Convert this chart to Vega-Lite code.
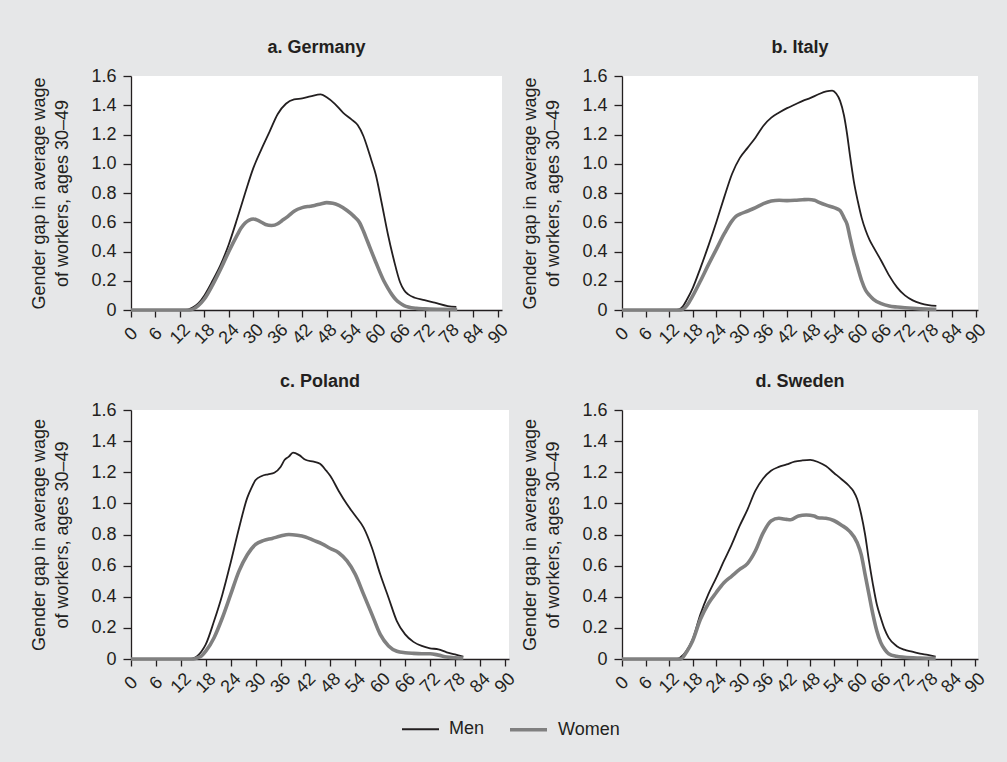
{
  "$schema": "https://vega.github.io/schema/vega-lite/v6.json",
  "background": "#e6e7e8",
  "padding": {"left": 30, "top": 39, "right": 22, "bottom": 30},
  "data": {"values": [
    {"country":"Germany","sex":"Men","age":0,"value":0},{"country":"Germany","sex":"Men","age":13,"value":0},{"country":"Germany","sex":"Men","age":14,"value":0.003},{"country":"Germany","sex":"Men","age":15,"value":0.015},{"country":"Germany","sex":"Men","age":16.5,"value":0.045},{"country":"Germany","sex":"Men","age":18,"value":0.1},{"country":"Germany","sex":"Men","age":20,"value":0.2},{"country":"Germany","sex":"Men","age":22,"value":0.31},{"country":"Germany","sex":"Men","age":24,"value":0.45},{"country":"Germany","sex":"Men","age":26,"value":0.62},{"country":"Germany","sex":"Men","age":28,"value":0.8},{"country":"Germany","sex":"Men","age":30,"value":0.97},{"country":"Germany","sex":"Men","age":32,"value":1.1},{"country":"Germany","sex":"Men","age":34,"value":1.22},{"country":"Germany","sex":"Men","age":36,"value":1.34},{"country":"Germany","sex":"Men","age":38,"value":1.41},{"country":"Germany","sex":"Men","age":40,"value":1.44},{"country":"Germany","sex":"Men","age":42,"value":1.447},{"country":"Germany","sex":"Men","age":44,"value":1.46},{"country":"Germany","sex":"Men","age":46.5,"value":1.475},{"country":"Germany","sex":"Men","age":48,"value":1.455},{"country":"Germany","sex":"Men","age":50,"value":1.41},{"country":"Germany","sex":"Men","age":52,"value":1.35},{"country":"Germany","sex":"Men","age":54,"value":1.305},{"country":"Germany","sex":"Men","age":55.6,"value":1.265},{"country":"Germany","sex":"Men","age":57,"value":1.19},{"country":"Germany","sex":"Men","age":58,"value":1.11},{"country":"Germany","sex":"Men","age":59,"value":1.02},{"country":"Germany","sex":"Men","age":60,"value":0.93},{"country":"Germany","sex":"Men","age":61.5,"value":0.73},{"country":"Germany","sex":"Men","age":63,"value":0.52},{"country":"Germany","sex":"Men","age":64.5,"value":0.34},{"country":"Germany","sex":"Men","age":66,"value":0.19},{"country":"Germany","sex":"Men","age":67,"value":0.135},{"country":"Germany","sex":"Men","age":68,"value":0.107},{"country":"Germany","sex":"Men","age":69.6,"value":0.084},{"country":"Germany","sex":"Men","age":72,"value":0.068},{"country":"Germany","sex":"Men","age":74.5,"value":0.05},{"country":"Germany","sex":"Men","age":77.7,"value":0.027},{"country":"Germany","sex":"Men","age":79.8,"value":0.022},
    {"country":"Germany","sex":"Women","age":0,"value":0},{"country":"Germany","sex":"Women","age":14.5,"value":0},{"country":"Germany","sex":"Women","age":15.5,"value":0.01},{"country":"Germany","sex":"Women","age":16.5,"value":0.03},{"country":"Germany","sex":"Women","age":18,"value":0.075},{"country":"Germany","sex":"Women","age":20,"value":0.17},{"country":"Germany","sex":"Women","age":22,"value":0.28},{"country":"Germany","sex":"Women","age":24,"value":0.4},{"country":"Germany","sex":"Women","age":26,"value":0.51},{"country":"Germany","sex":"Women","age":27,"value":0.56},{"country":"Germany","sex":"Women","age":28,"value":0.595},{"country":"Germany","sex":"Women","age":29,"value":0.615},{"country":"Germany","sex":"Women","age":30,"value":0.622},{"country":"Germany","sex":"Women","age":31,"value":0.615},{"country":"Germany","sex":"Women","age":32,"value":0.6},{"country":"Germany","sex":"Women","age":33,"value":0.585},{"country":"Germany","sex":"Women","age":34.5,"value":0.578},{"country":"Germany","sex":"Women","age":36,"value":0.59},{"country":"Germany","sex":"Women","age":37,"value":0.61},{"country":"Germany","sex":"Women","age":38.5,"value":0.64},{"country":"Germany","sex":"Women","age":40,"value":0.675},{"country":"Germany","sex":"Women","age":42,"value":0.7},{"country":"Germany","sex":"Women","age":44,"value":0.71},{"country":"Germany","sex":"Women","age":45,"value":0.715},{"country":"Germany","sex":"Women","age":46.5,"value":0.725},{"country":"Germany","sex":"Women","age":48,"value":0.734},{"country":"Germany","sex":"Women","age":49.5,"value":0.73},{"country":"Germany","sex":"Women","age":51,"value":0.715},{"country":"Germany","sex":"Women","age":53,"value":0.68},{"country":"Germany","sex":"Women","age":54.5,"value":0.645},{"country":"Germany","sex":"Women","age":56,"value":0.6},{"country":"Germany","sex":"Women","age":57,"value":0.54},{"country":"Germany","sex":"Women","age":58,"value":0.47},{"country":"Germany","sex":"Women","age":60,"value":0.33},{"country":"Germany","sex":"Women","age":62,"value":0.2},{"country":"Germany","sex":"Women","age":63,"value":0.15},{"country":"Germany","sex":"Women","age":64,"value":0.105},{"country":"Germany","sex":"Women","age":65,"value":0.07},{"country":"Germany","sex":"Women","age":66,"value":0.047},{"country":"Germany","sex":"Women","age":67,"value":0.03},{"country":"Germany","sex":"Women","age":68,"value":0.02},{"country":"Germany","sex":"Women","age":70,"value":0.011},{"country":"Germany","sex":"Women","age":72,"value":0.008},{"country":"Germany","sex":"Women","age":76,"value":0.005},{"country":"Germany","sex":"Women","age":80,"value":0.003},
    {"country":"Italy","sex":"Men","age":0,"value":0},{"country":"Italy","sex":"Men","age":13.5,"value":0},{"country":"Italy","sex":"Men","age":14.5,"value":0.005},{"country":"Italy","sex":"Men","age":15.5,"value":0.025},{"country":"Italy","sex":"Men","age":16.5,"value":0.07},{"country":"Italy","sex":"Men","age":18,"value":0.15},{"country":"Italy","sex":"Men","age":20,"value":0.29},{"country":"Italy","sex":"Men","age":22,"value":0.44},{"country":"Italy","sex":"Men","age":24,"value":0.6},{"country":"Italy","sex":"Men","age":26,"value":0.77},{"country":"Italy","sex":"Men","age":28,"value":0.93},{"country":"Italy","sex":"Men","age":30,"value":1.04},{"country":"Italy","sex":"Men","age":32,"value":1.11},{"country":"Italy","sex":"Men","age":34,"value":1.18},{"country":"Italy","sex":"Men","age":36,"value":1.26},{"country":"Italy","sex":"Men","age":38,"value":1.315},{"country":"Italy","sex":"Men","age":40,"value":1.35},{"country":"Italy","sex":"Men","age":42,"value":1.38},{"country":"Italy","sex":"Men","age":44,"value":1.405},{"country":"Italy","sex":"Men","age":46,"value":1.43},{"country":"Italy","sex":"Men","age":48,"value":1.45},{"country":"Italy","sex":"Men","age":50,"value":1.475},{"country":"Italy","sex":"Men","age":52,"value":1.495},{"country":"Italy","sex":"Men","age":53.5,"value":1.5},{"country":"Italy","sex":"Men","age":54.5,"value":1.48},{"country":"Italy","sex":"Men","age":55.5,"value":1.43},{"country":"Italy","sex":"Men","age":56.5,"value":1.33},{"country":"Italy","sex":"Men","age":57.3,"value":1.2},{"country":"Italy","sex":"Men","age":58,"value":1.06},{"country":"Italy","sex":"Men","age":59,"value":0.88},{"country":"Italy","sex":"Men","age":60,"value":0.745},{"country":"Italy","sex":"Men","age":61,"value":0.63},{"country":"Italy","sex":"Men","age":62,"value":0.545},{"country":"Italy","sex":"Men","age":63,"value":0.48},{"country":"Italy","sex":"Men","age":64,"value":0.43},{"country":"Italy","sex":"Men","age":66,"value":0.335},{"country":"Italy","sex":"Men","age":68,"value":0.235},{"country":"Italy","sex":"Men","age":70,"value":0.155},{"country":"Italy","sex":"Men","age":72,"value":0.1},{"country":"Italy","sex":"Men","age":74,"value":0.066},{"country":"Italy","sex":"Men","age":76,"value":0.046},{"country":"Italy","sex":"Men","age":78,"value":0.034},{"country":"Italy","sex":"Men","age":80,"value":0.028},
    {"country":"Italy","sex":"Women","age":0,"value":0},{"country":"Italy","sex":"Women","age":15,"value":0},{"country":"Italy","sex":"Women","age":16,"value":0.015},{"country":"Italy","sex":"Women","age":17,"value":0.05},{"country":"Italy","sex":"Women","age":18,"value":0.096},{"country":"Italy","sex":"Women","age":20,"value":0.2},{"country":"Italy","sex":"Women","age":22,"value":0.31},{"country":"Italy","sex":"Women","age":24,"value":0.415},{"country":"Italy","sex":"Women","age":26,"value":0.52},{"country":"Italy","sex":"Women","age":28,"value":0.61},{"country":"Italy","sex":"Women","age":29,"value":0.64},{"country":"Italy","sex":"Women","age":30,"value":0.655},{"country":"Italy","sex":"Women","age":32,"value":0.677},{"country":"Italy","sex":"Women","age":34,"value":0.7},{"country":"Italy","sex":"Women","age":36,"value":0.727},{"country":"Italy","sex":"Women","age":38,"value":0.745},{"country":"Italy","sex":"Women","age":40,"value":0.75},{"country":"Italy","sex":"Women","age":42,"value":0.748},{"country":"Italy","sex":"Women","age":44,"value":0.75},{"country":"Italy","sex":"Women","age":46,"value":0.754},{"country":"Italy","sex":"Women","age":47.5,"value":0.756},{"country":"Italy","sex":"Women","age":49,"value":0.75},{"country":"Italy","sex":"Women","age":50,"value":0.738},{"country":"Italy","sex":"Women","age":52,"value":0.717},{"country":"Italy","sex":"Women","age":54,"value":0.7},{"country":"Italy","sex":"Women","age":55.5,"value":0.68},{"country":"Italy","sex":"Women","age":56.5,"value":0.63},{"country":"Italy","sex":"Women","age":57.3,"value":0.585},{"country":"Italy","sex":"Women","age":58,"value":0.5},{"country":"Italy","sex":"Women","age":59,"value":0.385},{"country":"Italy","sex":"Women","age":60,"value":0.29},{"country":"Italy","sex":"Women","age":61,"value":0.2},{"country":"Italy","sex":"Women","age":62,"value":0.135},{"country":"Italy","sex":"Women","age":63,"value":0.1},{"country":"Italy","sex":"Women","age":64,"value":0.073},{"country":"Italy","sex":"Women","age":66,"value":0.043},{"country":"Italy","sex":"Women","age":68,"value":0.027},{"country":"Italy","sex":"Women","age":70,"value":0.02},{"country":"Italy","sex":"Women","age":72,"value":0.015},{"country":"Italy","sex":"Women","age":76,"value":0.008},{"country":"Italy","sex":"Women","age":80,"value":0.005},
    {"country":"Poland","sex":"Men","age":0,"value":0},{"country":"Poland","sex":"Men","age":14,"value":0},{"country":"Poland","sex":"Men","age":15,"value":0.005},{"country":"Poland","sex":"Men","age":16,"value":0.02},{"country":"Poland","sex":"Men","age":17,"value":0.05},{"country":"Poland","sex":"Men","age":18,"value":0.094},{"country":"Poland","sex":"Men","age":20,"value":0.244},{"country":"Poland","sex":"Men","age":22,"value":0.415},{"country":"Poland","sex":"Men","age":24,"value":0.62},{"country":"Poland","sex":"Men","age":26,"value":0.84},{"country":"Poland","sex":"Men","age":28,"value":1.037},{"country":"Poland","sex":"Men","age":29,"value":1.1},{"country":"Poland","sex":"Men","age":30,"value":1.15},{"country":"Poland","sex":"Men","age":31.5,"value":1.176},{"country":"Poland","sex":"Men","age":33,"value":1.187},{"country":"Poland","sex":"Men","age":34.5,"value":1.197},{"country":"Poland","sex":"Men","age":36,"value":1.234},{"country":"Poland","sex":"Men","age":37,"value":1.28},{"country":"Poland","sex":"Men","age":38,"value":1.3},{"country":"Poland","sex":"Men","age":39,"value":1.326},{"country":"Poland","sex":"Men","age":40.5,"value":1.31},{"country":"Poland","sex":"Men","age":42,"value":1.28},{"country":"Poland","sex":"Men","age":44,"value":1.268},{"country":"Poland","sex":"Men","age":45.5,"value":1.255},{"country":"Poland","sex":"Men","age":47,"value":1.21},{"country":"Poland","sex":"Men","age":48,"value":1.176},{"country":"Poland","sex":"Men","age":50,"value":1.08},{"country":"Poland","sex":"Men","age":52,"value":0.994},{"country":"Poland","sex":"Men","age":54,"value":0.92},{"country":"Poland","sex":"Men","age":56,"value":0.844},{"country":"Poland","sex":"Men","age":58,"value":0.715},{"country":"Poland","sex":"Men","age":60,"value":0.544},{"country":"Poland","sex":"Men","age":62,"value":0.394},{"country":"Poland","sex":"Men","age":64,"value":0.244},{"country":"Poland","sex":"Men","age":66,"value":0.158},{"country":"Poland","sex":"Men","age":68,"value":0.11},{"country":"Poland","sex":"Men","age":70,"value":0.084},{"country":"Poland","sex":"Men","age":72,"value":0.069},{"country":"Poland","sex":"Men","age":74,"value":0.062},{"country":"Poland","sex":"Men","age":76,"value":0.043},{"country":"Poland","sex":"Men","age":78,"value":0.03},{"country":"Poland","sex":"Men","age":80,"value":0.015},
    {"country":"Poland","sex":"Women","age":0,"value":0},{"country":"Poland","sex":"Women","age":15,"value":0},{"country":"Poland","sex":"Women","age":16,"value":0.008},{"country":"Poland","sex":"Women","age":17,"value":0.02},{"country":"Poland","sex":"Women","age":18,"value":0.05},{"country":"Poland","sex":"Women","age":20,"value":0.137},{"country":"Poland","sex":"Women","age":22,"value":0.265},{"country":"Poland","sex":"Women","age":24,"value":0.415},{"country":"Poland","sex":"Women","age":26,"value":0.565},{"country":"Poland","sex":"Women","age":28,"value":0.67},{"country":"Poland","sex":"Women","age":30,"value":0.737},{"country":"Poland","sex":"Women","age":32,"value":0.762},{"country":"Poland","sex":"Women","age":34,"value":0.775},{"country":"Poland","sex":"Women","age":36,"value":0.79},{"country":"Poland","sex":"Women","age":38,"value":0.8},{"country":"Poland","sex":"Women","age":40,"value":0.795},{"country":"Poland","sex":"Women","age":42,"value":0.784},{"country":"Poland","sex":"Women","age":44,"value":0.762},{"country":"Poland","sex":"Women","age":46,"value":0.74},{"country":"Poland","sex":"Women","age":48,"value":0.71},{"country":"Poland","sex":"Women","age":50,"value":0.683},{"country":"Poland","sex":"Women","age":52,"value":0.63},{"country":"Poland","sex":"Women","age":54,"value":0.544},{"country":"Poland","sex":"Women","age":56,"value":0.415},{"country":"Poland","sex":"Women","age":58,"value":0.287},{"country":"Poland","sex":"Women","age":60,"value":0.158},{"country":"Poland","sex":"Women","age":62,"value":0.084},{"country":"Poland","sex":"Women","age":64,"value":0.05},{"country":"Poland","sex":"Women","age":66,"value":0.04},{"country":"Poland","sex":"Women","age":68,"value":0.036},{"country":"Poland","sex":"Women","age":70,"value":0.034},{"country":"Poland","sex":"Women","age":72,"value":0.034},{"country":"Poland","sex":"Women","age":74,"value":0.025},{"country":"Poland","sex":"Women","age":76,"value":0.013},{"country":"Poland","sex":"Women","age":78,"value":0.008},{"country":"Poland","sex":"Women","age":80,"value":0.006},
    {"country":"Sweden","sex":"Men","age":0,"value":0},{"country":"Sweden","sex":"Men","age":14,"value":0},{"country":"Sweden","sex":"Men","age":15,"value":0.013},{"country":"Sweden","sex":"Men","age":16.5,"value":0.055},{"country":"Sweden","sex":"Men","age":18,"value":0.126},{"country":"Sweden","sex":"Men","age":20,"value":0.287},{"country":"Sweden","sex":"Men","age":22,"value":0.415},{"country":"Sweden","sex":"Men","age":24,"value":0.52},{"country":"Sweden","sex":"Men","age":26,"value":0.63},{"country":"Sweden","sex":"Men","age":28,"value":0.737},{"country":"Sweden","sex":"Men","age":30,"value":0.855},{"country":"Sweden","sex":"Men","age":32,"value":0.96},{"country":"Sweden","sex":"Men","age":34,"value":1.08},{"country":"Sweden","sex":"Men","age":36,"value":1.16},{"country":"Sweden","sex":"Men","age":38,"value":1.21},{"country":"Sweden","sex":"Men","age":40,"value":1.234},{"country":"Sweden","sex":"Men","age":42,"value":1.25},{"country":"Sweden","sex":"Men","age":44,"value":1.268},{"country":"Sweden","sex":"Men","age":46,"value":1.276},{"country":"Sweden","sex":"Men","age":48,"value":1.28},{"country":"Sweden","sex":"Men","age":50,"value":1.266},{"country":"Sweden","sex":"Men","age":52,"value":1.24},{"country":"Sweden","sex":"Men","age":54,"value":1.197},{"country":"Sweden","sex":"Men","age":56,"value":1.155},{"country":"Sweden","sex":"Men","age":58,"value":1.11},{"country":"Sweden","sex":"Men","age":59,"value":1.08},{"country":"Sweden","sex":"Men","age":60,"value":1.026},{"country":"Sweden","sex":"Men","age":61,"value":0.93},{"country":"Sweden","sex":"Men","age":62,"value":0.8},{"country":"Sweden","sex":"Men","age":63,"value":0.63},{"country":"Sweden","sex":"Men","age":64,"value":0.48},{"country":"Sweden","sex":"Men","age":65,"value":0.35},{"country":"Sweden","sex":"Men","age":66,"value":0.265},{"country":"Sweden","sex":"Men","age":67,"value":0.19},{"country":"Sweden","sex":"Men","age":68,"value":0.137},{"country":"Sweden","sex":"Men","age":70,"value":0.084},{"country":"Sweden","sex":"Men","age":72,"value":0.06},{"country":"Sweden","sex":"Men","age":74,"value":0.047},{"country":"Sweden","sex":"Men","age":76,"value":0.034},{"country":"Sweden","sex":"Men","age":78,"value":0.026},{"country":"Sweden","sex":"Men","age":80,"value":0.015},
    {"country":"Sweden","sex":"Women","age":0,"value":0},{"country":"Sweden","sex":"Women","age":15,"value":0},{"country":"Sweden","sex":"Women","age":16.5,"value":0.047},{"country":"Sweden","sex":"Women","age":18,"value":0.116},{"country":"Sweden","sex":"Women","age":20,"value":0.255},{"country":"Sweden","sex":"Women","age":22,"value":0.355},{"country":"Sweden","sex":"Women","age":24,"value":0.426},{"country":"Sweden","sex":"Women","age":26,"value":0.49},{"country":"Sweden","sex":"Women","age":28,"value":0.533},{"country":"Sweden","sex":"Women","age":30,"value":0.576},{"country":"Sweden","sex":"Women","age":32,"value":0.613},{"country":"Sweden","sex":"Women","age":34,"value":0.694},{"country":"Sweden","sex":"Women","age":36,"value":0.81},{"country":"Sweden","sex":"Women","age":38,"value":0.887},{"country":"Sweden","sex":"Women","age":40,"value":0.904},{"country":"Sweden","sex":"Women","age":42,"value":0.897},{"country":"Sweden","sex":"Women","age":43,"value":0.895},{"country":"Sweden","sex":"Women","age":45,"value":0.919},{"country":"Sweden","sex":"Women","age":47,"value":0.925},{"country":"Sweden","sex":"Women","age":49,"value":0.919},{"country":"Sweden","sex":"Women","age":50,"value":0.908},{"country":"Sweden","sex":"Women","age":52,"value":0.904},{"country":"Sweden","sex":"Women","age":54,"value":0.89},{"country":"Sweden","sex":"Women","age":56,"value":0.86},{"country":"Sweden","sex":"Women","age":58,"value":0.822},{"country":"Sweden","sex":"Women","age":60,"value":0.747},{"country":"Sweden","sex":"Women","age":61,"value":0.672},{"country":"Sweden","sex":"Women","age":62,"value":0.544},{"country":"Sweden","sex":"Women","age":63,"value":0.415},{"country":"Sweden","sex":"Women","age":64,"value":0.287},{"country":"Sweden","sex":"Women","age":65,"value":0.18},{"country":"Sweden","sex":"Women","age":66,"value":0.105},{"country":"Sweden","sex":"Women","age":67,"value":0.062},{"country":"Sweden","sex":"Women","age":68,"value":0.034},{"country":"Sweden","sex":"Women","age":70,"value":0.017},{"country":"Sweden","sex":"Women","age":72,"value":0.011},{"country":"Sweden","sex":"Women","age":76,"value":0.006},{"country":"Sweden","sex":"Women","age":80,"value":0.004}
  ]},
  "vconcat": [
    {"hconcat": [
      {"title": "a. Germany", "width": 371, "height": 234,
       "transform": [{"filter": "datum.country === 'Germany'"}],
       "mark": {"type": "line", "interpolate": "monotone"},
       "encoding": {
         "x": {"field": "age", "type": "quantitative", "scale": {"domain": [0, 91], "nice": false}, "axis": {"values": [0,6,12,18,24,30,36,42,48,54,60,66,72,78,84,90], "title": null}},
         "y": {"field": "value", "type": "quantitative", "scale": {"domain": [0, 1.6], "nice": false}, "axis": {"values": [0,0.2,0.4,0.6,0.8,1,1.2,1.4,1.6], "title": ["Gender gap in average wage", "of workers, ages 30–49"], "labelExpr": "datum.value === 0 ? '0' : format(datum.value, '.1f')"}},
         "color": {"field": "sex", "type": "nominal", "scale": {"domain": ["Men", "Women"], "range": ["#231f20", "#808080"]}, "legend": {"title": null}},
         "strokeWidth": {"field": "sex", "type": "nominal", "scale": {"domain": ["Men", "Women"], "range": [1.8, 3.6]}, "legend": {"title": null}}
       }},
      {"title": "b. Italy", "width": 356, "height": 234,
       "transform": [{"filter": "datum.country === 'Italy'"}],
       "mark": {"type": "line", "interpolate": "monotone"},
       "encoding": {
         "x": {"field": "age", "type": "quantitative", "scale": {"domain": [0, 90.6], "nice": false}, "axis": {"values": [0,6,12,18,24,30,36,42,48,54,60,66,72,78,84,90], "title": null}},
         "y": {"field": "value", "type": "quantitative", "scale": {"domain": [0, 1.6], "nice": false}, "axis": {"values": [0,0.2,0.4,0.6,0.8,1,1.2,1.4,1.6], "title": ["Gender gap in average wage", "of workers, ages 30–49"], "labelExpr": "datum.value === 0 ? '0' : format(datum.value, '.1f')"}},
         "color": {"field": "sex", "type": "nominal", "scale": {"domain": ["Men", "Women"], "range": ["#231f20", "#808080"]}, "legend": {"title": null}},
         "strokeWidth": {"field": "sex", "type": "nominal", "scale": {"domain": ["Men", "Women"], "range": [1.8, 3.6]}, "legend": {"title": null}}
       }}
    ], "spacing": 9, "resolve": {"scale": {"color": "shared", "strokeWidth": "shared"}, "legend": {"color": "shared", "strokeWidth": "shared"}}},
    {"hconcat": [
      {"title": "c. Poland", "width": 378, "height": 249,
       "transform": [{"filter": "datum.country === 'Poland'"}],
       "mark": {"type": "line", "interpolate": "monotone"},
       "encoding": {
         "x": {"field": "age", "type": "quantitative", "scale": {"domain": [0, 91], "nice": false}, "axis": {"values": [0,6,12,18,24,30,36,42,48,54,60,66,72,78,84,90], "title": null}},
         "y": {"field": "value", "type": "quantitative", "scale": {"domain": [0, 1.6], "nice": false}, "axis": {"values": [0,0.2,0.4,0.6,0.8,1,1.2,1.4,1.6], "title": ["Gender gap in average wage", "of workers, ages 30–49"], "labelExpr": "datum.value === 0 ? '0' : format(datum.value, '.1f')"}},
         "color": {"field": "sex", "type": "nominal", "scale": {"domain": ["Men", "Women"], "range": ["#231f20", "#808080"]}, "legend": {"title": null}},
         "strokeWidth": {"field": "sex", "type": "nominal", "scale": {"domain": ["Men", "Women"], "range": [1.8, 3.6]}, "legend": {"title": null}}
       }},
      {"title": "d. Sweden", "width": 356, "height": 249,
       "transform": [{"filter": "datum.country === 'Sweden'"}],
       "mark": {"type": "line", "interpolate": "monotone"},
       "encoding": {
         "x": {"field": "age", "type": "quantitative", "scale": {"domain": [0, 90.8], "nice": false}, "axis": {"values": [0,6,12,18,24,30,36,42,48,54,60,66,72,78,84,90], "title": null}},
         "y": {"field": "value", "type": "quantitative", "scale": {"domain": [0, 1.6], "nice": false}, "axis": {"values": [0,0.2,0.4,0.6,0.8,1,1.2,1.4,1.6], "title": ["Gender gap in average wage", "of workers, ages 30–49"], "labelExpr": "datum.value === 0 ? '0' : format(datum.value, '.1f')"}},
         "color": {"field": "sex", "type": "nominal", "scale": {"domain": ["Men", "Women"], "range": ["#231f20", "#808080"]}, "legend": {"title": null}},
         "strokeWidth": {"field": "sex", "type": "nominal", "scale": {"domain": ["Men", "Women"], "range": [1.8, 3.6]}, "legend": {"title": null}}
       }}
    ], "spacing": 2, "resolve": {"scale": {"color": "shared", "strokeWidth": "shared"}, "legend": {"color": "shared", "strokeWidth": "shared"}}}
  ],
  "spacing": 25,
  "resolve": {"scale": {"color": "shared", "strokeWidth": "shared"}, "legend": {"color": "shared", "strokeWidth": "shared"}},
  "config": {
    "font": "Liberation Sans",
    "view": {"stroke": null, "fill": "white"},
    "axis": {"domainColor": "#231f20", "tickColor": "#231f20", "labelColor": "#231f20", "titleColor": "#231f20", "labelFontSize": 18, "titleFontSize": 18, "titleFontWeight": "normal", "titleLineHeight": 23, "titlePadding": 19, "grid": false, "tickSize": 8, "domainWidth": 1.3, "tickWidth": 1.3, "labelPadding": 7, "labelFlush": false, "labelOverlap": false},
    "axisX": {"labelAngle": -45, "labelAlign": "center", "labelBaseline": "middle", "labelPadding": 17, "tickSize": 7},
    "title": {"fontSize": 18, "fontWeight": "bold", "color": "#231f20", "frame": "group", "anchor": "middle", "offset": 10},
    "legend": {"orient": "bottom", "direction": "horizontal", "labelFontSize": 18, "labelColor": "#231f20", "symbolType": "stroke", "symbolSize": 1369, "labelOffset": 9, "columnPadding": 17, "offset": 12, "layout": {"bottom": {"anchor": "middle"}}}
  }
}
